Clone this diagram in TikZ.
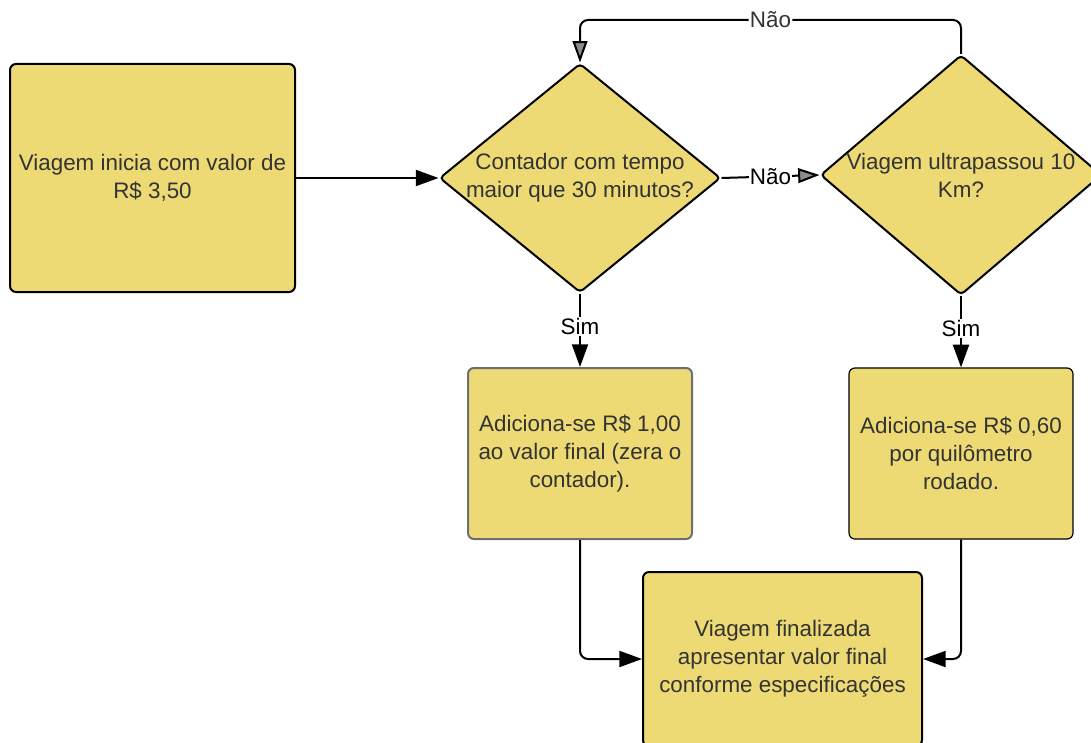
\documentclass[tikz,border=0pt]{standalone}
\usepackage{fontspec}
\setmainfont{Liberation Sans}
\usetikzlibrary{shapes.geometric,arrows.meta}
\definecolor{boxfill}{HTML}{EDDA74}
\definecolor{txtgray}{HTML}{333333}
\definecolor{edgegray}{HTML}{6E6E6E}
\definecolor{tipgrayfill}{HTML}{8C8C8C}
\tikzset{
  basefont/.style={font=\fontsize{16.8pt}{21pt}\selectfont},
  stepbox/.style={rectangle, draw=black, line width=1.5pt, rounded corners=4.5pt,
    fill=boxfill, text=txtgray, align=center, inner sep=0pt, basefont},
  decision/.style={diamond, draw=black, line width=1.5pt, rounded corners=3pt,
    fill=boxfill, inner sep=0pt},
  dtext/.style={text=txtgray, align=center, inner sep=0pt, basefont},
  conn/.style={draw=black, line width=1.5pt, line join=round,
    -{Triangle[length=17pt,width=12pt]}},
  conngray/.style={draw=black, line width=1.5pt, line join=round,
    -{Triangle[length=16pt,width=11pt,fill=tipgrayfill]}},
  lbl/.style={fill=white, inner sep=1pt, basefont},
}
\begin{document}
\begin{tikzpicture}[x=0.75pt,y=-0.75pt]
  \useasboundingbox (0,0) rectangle (1091,742);

  % process boxes
  \node[stepbox, minimum width=213.75pt, minimum height=171pt] (start) at (152.5,178)
    {Viagem inicia com valor de\\R\$ 3,50};
  \node[stepbox, draw=edgegray, minimum width=168pt, minimum height=128.25pt] (addA) at (580,453.5)
    {Adiciona-se R\$ 1,00\\ao valor final (zera o\\contador).};
  \node[stepbox, line width=0.9pt, minimum width=168pt, minimum height=128.25pt] (addB) at (961,453.5)
    {Adiciona-se R\$ 0,60\\por quilômetro\\rodado.};
  \node[stepbox, anchor=north, minimum width=209.25pt, minimum height=130.5pt] (final) at (782.5,571)
    {Viagem finalizada\\apresentar valor final\\conforme especificações};

  % decisions
  \node[decision, minimum width=210.75pt, minimum height=171.75pt] (d1) at (580,178) {};
  \node[dtext] (d1text) at (d1.center) {Contador com tempo\\maior que 30 minutos?};
  \node[decision, minimum width=210.75pt, minimum height=180pt] (d2) at (961,175) {};
  \node[dtext] (d2text) at (d2.center) {Viagem ultrapassou 10\\Km?};

  % connectors
  \coordinate (loopy) at (0,20);
  \draw[conn] (start.east) -- (d1.west);
  \draw[conngray] (d1.east) -- node[lbl, text=black] {Não} (d2.west);
  \draw[conngray, rounded corners=6pt] (d2.north) -- (d2.north |- loopy)
    -- node[lbl, text=txtgray] {Não} (d1.north |- loopy) -- (d1.north);
  \draw[conn] (d1.south) -- node[lbl, text=black, pos=0.45] {Sim} (addA.north);
  \draw[conn] (d2.south) -- node[lbl, text=black, pos=0.45] {Sim} (addB.north);
  \draw[conn, rounded corners=6pt] (addA.south) |- (final.west);
  \draw[conn, rounded corners=6pt] (addB.south) |- (final.east);
\end{tikzpicture}
\end{document}
